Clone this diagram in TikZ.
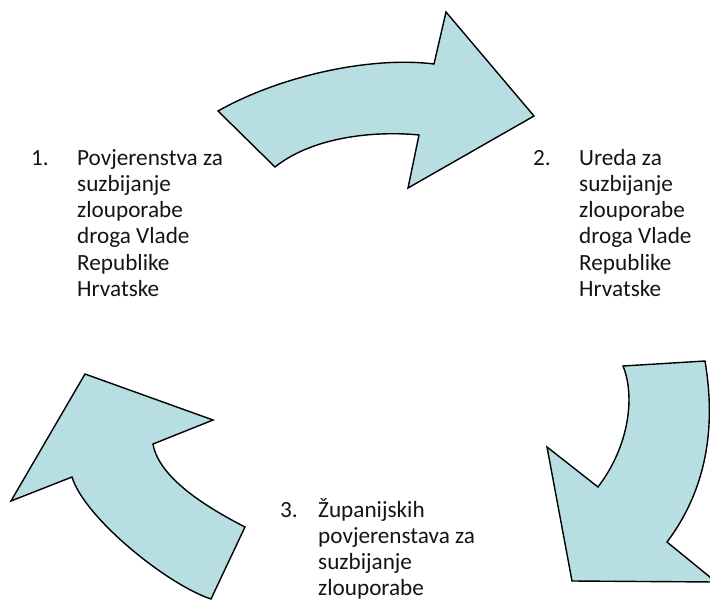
\documentclass[tikz,border=0pt]{standalone}
\usepackage{fontspec}
\setmainfont{Carlito}
\definecolor{arrowfill}{RGB}{183,222,226}
\definecolor{txt}{RGB}{20,20,20}
\begin{document}
\begin{tikzpicture}[x=1pt,y=-1pt,
  arrowshape/.style={fill=arrowfill,draw=black,line width=1.4pt,line join=miter},
  lbl/.style={anchor=base west,inner sep=0pt,text=txt,font=\fontsize{23.2}{26.3}\selectfont}]
\clip (0,0) rectangle (710,608);
% top arrow (1 -> 2)
\path[arrowshape] (218,111) .. controls (280,76) and (370,56) .. (434,64) -- (446,12) -- (534,116) -- (408,188) -- (419,135) .. controls (380,131) and (315,135) .. (275,167) -- cycle;
% right arrow (2 -> 3)
\path[arrowshape] (623,366) .. controls (635,395) and (630,445) .. (598,487) -- (547,447) -- (572,581) -- (716,582) -- (667,542) .. controls (710,485) and (715,420) .. (705,361) -- cycle;
% left arrow (3 -> 1)
\path[arrowshape] (245,527) .. controls (210,509) and (159,479) .. (153,444) -- (213,420) -- (85,374) -- (11,501) -- (72,477) .. controls (84,517) and (166,584) .. (211,599) -- cycle;
% texts
\node[lbl] (n1) at (31,165) {1.};
\foreach \t [count=\i] in {Povjerenstva za,suzbijanje,zlouporabe,droga Vlade,Republike,Hrvatske}
  \node[lbl] (a\i) at (77,{165+(\i-1)*26.3}) {\t};
\node[lbl] (n2) at (533,165) {2.};
\foreach \t [count=\i] in {Ureda za,suzbijanje,zlouporabe,droga Vlade,Republike,Hrvatske}
  \node[lbl] (b\i) at (579,{165+(\i-1)*26.3}) {\t};
\node[lbl] (n3) at (280,517) {3.};
\foreach \t [count=\i] in {Županijskih,povjerenstava za,suzbijanje,zlouporabe}
  \node[lbl] (c\i) at (318,{517+(\i-1)*26.3}) {\t};
\end{tikzpicture}
\end{document}
